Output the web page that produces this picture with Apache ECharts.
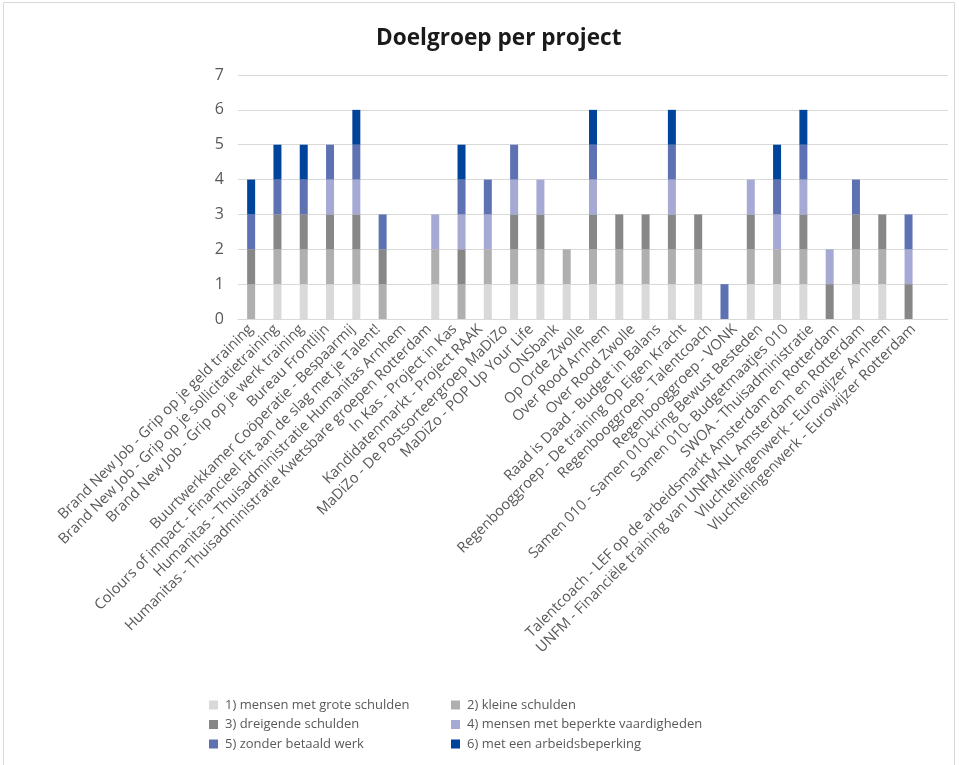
<!DOCTYPE html>
<html>
<head>
<meta charset="utf-8">
<script src="https://cdn.jsdelivr.net/npm/echarts@6/dist/echarts.min.js"></script>
<style>
  html, body { margin: 0; padding: 0; background: #fff; }
  #chart { width: 959px; height: 765px; }
</style>
</head>
<body>
<div id="chart"></div>
<script>
// Projects on the category axis
const projects = [
  'Brand New Job - Grip op je geld training',
  'Brand New Job - Grip op je sollicitatietraining',
  'Brand New Job - Grip op je werk training',
  'Bureau Frontlijn',
  'Buurtwerkkamer Coöperatie - Bespaarmij',
  'Colours of impact - Financieel Fit aan de slag met je Talent!',
  'Humanitas - Thuisadministratie Humanitas Arnhem',
  'Humanitas - Thuisadministratie Kwetsbare groepen Rotterdam',
  'In Kas - Project in Kas',
  'Kandidatenmarkt - Project RAAK',
  'MaDiZo - De Postsorteergroep MaDiZo',
  'MaDiZo - POP Up Your Life',
  'ONSbank',
  'Op Orde Zwolle',
  'Over Rood Arnhem',
  'Over Rood Zwolle',
  'Raad is Daad - Budget in Balans',
  'Regenbooggroep - De training Op Eigen Kracht',
  'Regenbooggroep - Talentcoach',
  'Regenbooggroep - VONK',
  'Samen 010 - Samen 010-kring Bewust Besteden',
  'Samen 010- Budgetmaatjes 010',
  'SWOA - Thuisadministratie',
  'Talentcoach - LEF op de arbeidsmarkt Amsterdam en Rotterdam',
  'UNFM - Financiële training van UNFM-NL Amsterdam en Rotterdam',
  'Vluchtelingenwerk - Eurowijzer Arnhem',
  'Vluchtelingenwerk - Eurowijzer Rotterdam'
];

// Target groups (stack order, bottom to top)
const groupNames = [
  '1) mensen met grote schulden',
  '2) kleine schulden',
  '3) dreigende schulden',
  '4) mensen met beperkte vaardigheden',
  '5) zonder betaald werk',
  '6) met een arbeidsbeperking'
];

const groteSchulden    = [0,1,1,1,1,0,0,1,0,1,1,1,1,1,1,1,1,1,0,1,1,1,0,1,1,0,0];
const kleineSchulden   = [1,1,1,1,1,1,0,1,1,1,1,1,1,1,1,1,1,1,0,1,1,1,0,1,1,0,0];
const dreigendeSchulden= [1,1,1,1,1,1,0,0,1,0,1,1,0,1,1,1,1,1,0,1,0,1,1,1,1,1,0];
const beperkteVaardigh = [0,0,0,1,1,0,0,1,1,1,1,1,0,1,0,0,1,0,0,1,1,1,1,0,0,1,0];
const zonderWerk       = [1,1,1,1,1,1,0,0,1,1,1,0,0,1,0,0,1,0,1,0,1,1,0,1,0,1,0];
const arbeidsbeperking = [1,1,1,0,1,0,0,0,1,0,0,0,0,1,0,0,1,0,0,0,1,1,0,0,0,0,0];

const yTicks = [0, 1, 2, 3, 4, 5, 6, 7];

const groupValues = [groteSchulden, kleineSchulden, dreigendeSchulden,
                     beperkteVaardigh, zonderWerk, arbeidsbeperking];
const groupColors = ['#D9D9D9', '#AFAFAF', '#878787', '#A5A9D4', '#5E72B3', '#00439A'];

const FONT = '"Open Sans", "Noto Sans", sans-serif';

const chart = echarts.init(document.getElementById('chart'), null, { renderer: 'canvas' });

const legendCommon = {
  orient: 'vertical',
  icon: 'rect',
  itemWidth: 9,
  itemHeight: 9,
  itemGap: 3.5,
  selectedMode: false,
  textStyle: { fontFamily: FONT, fontSize: 13, color: '#595959', lineHeight: 16, padding: [0, 0, 0, 2] }
};

chart.setOption({
  animation: false,
  backgroundColor: '#ffffff',
  title: {
    text: 'Doelgroep per project',
    left: 371,
    top: 22,
    textStyle: { fontFamily: FONT, fontSize: 22.6, fontWeight: 'bold', color: '#1a1a1a' }
  },
  graphic: [{
    type: 'rect',
    shape: { x: 3.5, y: 2.5, width: 951, height: 780 },
    style: { fill: 'none', stroke: '#D9D9D9', lineWidth: 1 },
    silent: true
  }],
  legend: [
    Object.assign({}, legendCommon, {
      left: 204, top: 692,
      data: [groupNames[0], groupNames[2], groupNames[4]]
    }),
    Object.assign({}, legendCommon, {
      left: 446, top: 692,
      data: [groupNames[1], groupNames[3], groupNames[5]]
    })
  ],
  // grid 0 holds the bars; grid 1 carries the project names, packed slightly tighter
  grid: [
    { left: 238, right: 11, top: 75, height: 244, containLabel: false },
    { left: 238, width: 688, top: 75, height: 244, containLabel: false }
  ],
  xAxis: [
    {
      type: 'category',
      gridIndex: 0,
      data: projects,
      axisLine: { lineStyle: { color: '#D9D9D9', width: 1 } },
      axisTick: { show: false },
      axisLabel: { show: false }
    },
    {
      type: 'category',
      gridIndex: 1,
      data: projects,
      axisLine: { show: false },
      axisTick: { show: false },
      axisLabel: {
        interval: 0,
        rotate: 45,
        margin: 8,
        fontFamily: FONT,
        fontSize: 14.6,
        color: '#595959'
      }
    }
  ],
  yAxis: [
    {
      type: 'value',
      gridIndex: 0,
      min: yTicks[0],
      max: yTicks[yTicks.length - 1],
      interval: 1,
      axisLine: { show: false },
      axisTick: { show: false },
      axisLabel: { fontFamily: FONT, fontSize: 16, color: '#595959', margin: 14 },
      splitLine: { lineStyle: { color: '#D9D9D9', width: 1 } }
    },
    {
      type: 'value',
      gridIndex: 1,
      min: 0, max: 7,
      show: false
    }
  ],
  series: groupNames.map((name, i) => ({
    name: name,
    type: 'bar',
    stack: 'doelgroep',
    xAxisIndex: 0,
    yAxisIndex: 0,
    barWidth: 8,
    itemStyle: { color: groupColors[i] },
    data: groupValues[i]
  }))
});
</script>
</body>
</html>
